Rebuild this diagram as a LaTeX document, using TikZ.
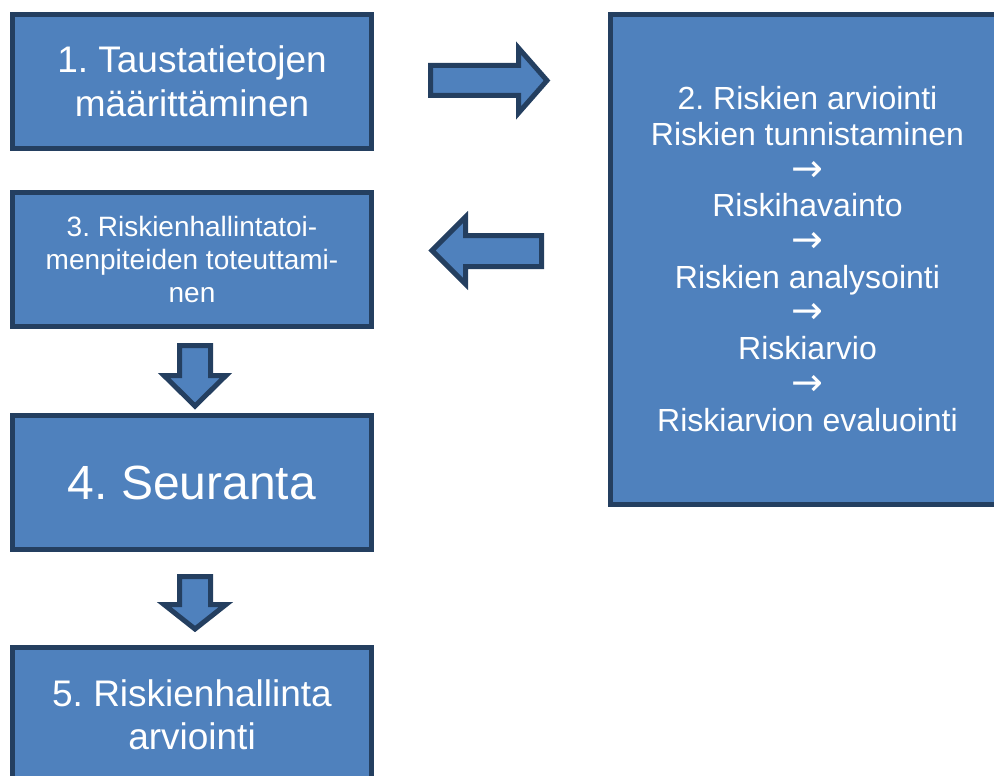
\documentclass[tikz,border=0pt]{standalone}
\usepackage{fontspec}
\setmainfont{Liberation Sans}
\newfontfamily\arrowfont{DejaVu Sans}
\definecolor{boxfill}{HTML}{4F81BD}
\definecolor{boxline}{HTML}{243F60}
\newcommand{\stepto}{{\arrowfont\fontsize{38}{35.7}\selectfont →}}
\frenchspacing
\begin{document}
\begin{tikzpicture}[x=1pt,y=-1pt,
  stepbox/.style={draw=boxline, fill=boxfill, line width=5pt, text=white, align=center, inner sep=0pt},
  blockarrow/.style={draw=boxline, fill=boxfill, line width=5pt, line join=miter},
  txt/.style={text=white, align=center, inner sep=0pt}]
\useasboundingbox (0,0) rectangle (994,776);
\clip (0,0) rectangle (994,776);
\node[stepbox, minimum width=359pt, minimum height=134pt, font=\fontsize{37}{44}\selectfont] (s1) at (192,81.5) {1. Taustatietojen\\määrittäminen};
\node[stepbox, minimum width=399.5pt, minimum height=490pt] (s2) at (810.25,259.5) {};
\node[txt, font=\fontsize{32}{35.7}\selectfont] (s2t) at (807.5,259) {2. Riskien arviointi\\Riskien tunnistaminen\\\stepto\\Riskihavainto\\\stepto\\Riskien analysointi\\\stepto\\Riskiarvio\\\stepto\\Riskiarvion evaluointi};
\node[stepbox, minimum width=359pt, minimum height=134pt, font=\fontsize{28}{33}\selectfont] (s3) at (192,259.5) {3. Riskienhallintatoi-\\menpiteiden toteuttami-\\nen};
\node[stepbox, minimum width=359pt, minimum height=134pt, font=\fontsize{48}{58}\selectfont] (s4) at (192,482.5) {4. Seuranta};
\node[stepbox, minimum width=359pt, minimum height=134pt, font=\fontsize{37}{43}\selectfont] (s5) at (192,714.5) {5. Riskienhallinta\\arviointi};
% block arrows
\draw[blockarrow] (430.5,65.5) -- (518.5,65.5) -- (518.5,48) -- (547,80.5) -- (518.5,113) -- (518.5,95.5) -- (430.5,95.5) -- cycle;
\draw[blockarrow] (432,250.5) -- (465.5,217) -- (465.5,235.5) -- (541.5,235.5) -- (541.5,266.5) -- (465.5,266.5) -- (465.5,284) -- cycle;
\draw[blockarrow] (179.5,345.5) -- (210.5,345.5) -- (210.5,375.5) -- (226,375.5) -- (195,406) -- (164,375.5) -- (179.5,375.5) -- cycle;
\draw[blockarrow] (179.5,576.5) -- (210.5,576.5) -- (210.5,604.5) -- (226,604.5) -- (195,629) -- (164,604.5) -- (179.5,604.5) -- cycle;
\end{tikzpicture}
\end{document}
